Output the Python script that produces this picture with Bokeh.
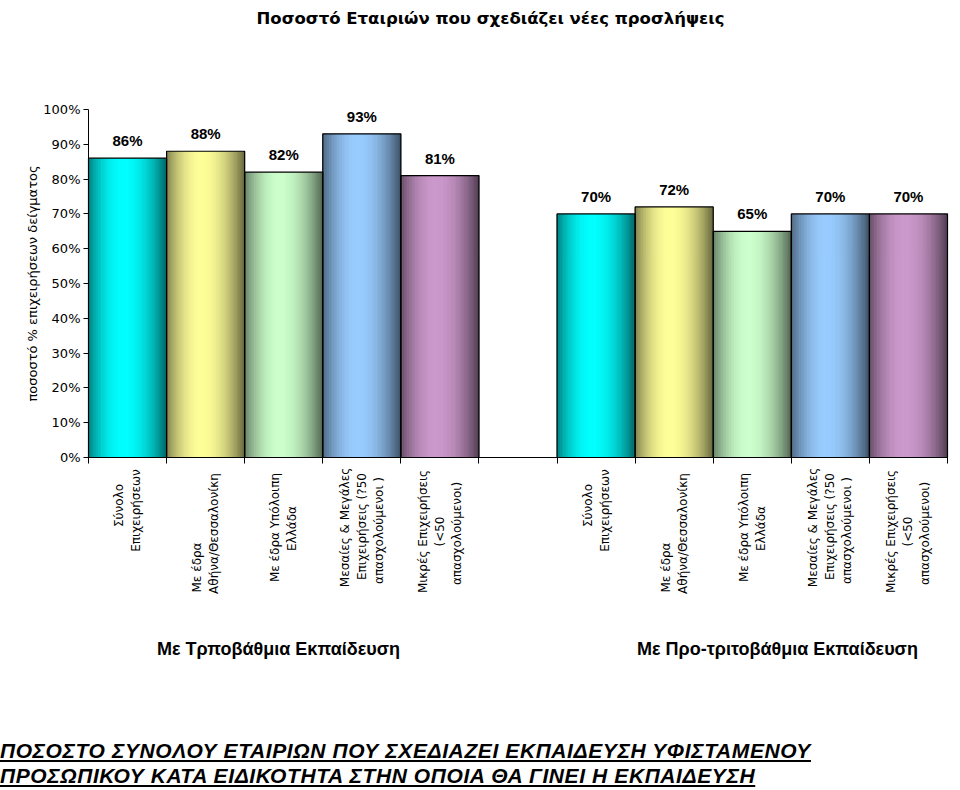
import math
from bokeh.plotting import figure
from bokeh.models import ColumnDataSource, Range1d, FixedTicker, LabelSet, Label, Div, LinearAxis
from bokeh.layouts import column
from bokeh.embed import file_html
from bokeh.resources import INLINE
from bokeh.core.properties import value

# ---------------- data ----------------
title_text = "Ποσοστό Εταιριών που σχεδιάζει νέες προσλήψεις"
y_axis_title = "ποσοστό % επιχειρήσεων δείγματος"
group_names = ["Με Τρποβάθμια Εκπαίδευση", "Με Προ-τριτοβάθμια Εκπαίδευση"]
category_lines = [
    ["Σύνολο", "Επιχειρήσεων"],
    ["Με έδρα", "Αθήνα/Θεσσαλονίκη"],
    ["Με έδρα Υπόλοιπη", "Ελλάδα"],
    ["Μεσαίες & Μεγάλες", "Επιχειρήσεις (?50", "απασχολούμενοι )"],
    ["Μικρές Επιχειρήσεις", "(<50", "απασχολούμενοι)"],
]
values_tertiary = [86, 88, 82, 93, 81]
values_pretertiary = [70, 72, 65, 70, 70]
y_ticks = [0, 10, 20, 30, 40, 50, 60, 70, 80, 90, 100]
y_tick_labels = ["0%", "10%", "20%", "30%", "40%", "50%", "60%", "70%", "80%", "90%", "100%"]
bar_colors = ["#00FFFF", "#FFFF99", "#CCFFCC", "#99CCFF", "#CC99CC"]
footer_lines = [
    "ΠΟΣΟΣΤΟ ΣΥΝΟΛΟΥ ΕΤΑΙΡΙΩΝ ΠΟΥ ΣΧΕΔΙΑΖΕΙ ΕΚΠΑΙΔΕΥΣΗ ΥΦΙΣΤΑΜΕΝΟΥ",
    "ΠΡΟΣΩΠΙΚΟΥ ΚΑΤΑ ΕΙΔΙΚΟΤΗΤΑ ΣΤΗΝ ΟΠΟΙΑ ΘΑ ΓΙΝΕΙ Η ΕΚΠΑΙΔΕΥΣΗ",
]

# ---------------- layout / style ----------------
W, H = 952, 740
AXIS_X_PX = 88         # canvas column of the value axis
RIGHT_PX = 947         # canvas column of the right end of the category axis
N_SLOTS = 11
PX_X = (RIGHT_PX - AXIS_X_PX) / N_SLOTS
Y0_PX = 457            # canvas row of the 0% line
PX_Y = 348 / 100.0     # pixels per percent
group_slot_start = [0, 6]
# vertical centre (px below the axis) of each line of each category label
line_center_px = [[48, 53], [110, 76], [70, 71], [70, 69, 73], [74, 74, 76]]
LINE_SPACING = 17
N_STRIPES = 48


def ypx(row):
    """canvas row -> data y"""
    return (Y0_PX - row) / PX_Y


def xpx(col):
    """canvas column -> data x"""
    return (col - AXIS_X_PX) / PX_X


p = figure(width=W, height=H, output_backend="svg", toolbar_location=None,
           x_range=Range1d(xpx(0), xpx(W)), y_range=Range1d(ypx(H), ypx(0)),
           x_axis_location=None, y_axis_location=None,
           min_border_left=0, min_border_right=0,
           min_border_top=0, min_border_bottom=0)
p.outline_line_color = None
p.xgrid.visible = False
p.ygrid.visible = False
p.background_fill_color = "white"
p.border_fill_color = "white"


def mix(c, f):
    r, g, b = int(c[1:3], 16), int(c[3:5], 16), int(c[5:7], 16)
    return "#%02x%02x%02x" % (int(r * f), int(g * f), int(b * f))


# gradient bars made of narrow stripes
sx, sw, stop, scol = [], [], [], []
ox, otop, lx, ly, ltxt = [], [], [], [], []
for gi, vals in enumerate([values_tertiary, values_pretertiary]):
    for ci, v in enumerate(vals):
        slot = group_slot_start[gi] + ci
        for j in range(N_STRIPES):
            t = (j + 0.5) / N_STRIPES
            peak = 0.45
            if t < peak:
                u = (peak - t) / peak
                dark = 0.5
            else:
                u = (t - peak) / (1 - peak)
                dark = 0.4
            w = 1 - u ** 2
            f = dark + (1 - dark) * w
            sx.append(slot + t)
            sw.append(1.0 / N_STRIPES * 1.4)
            stop.append(v)
            scol.append(mix(bar_colors[ci], f))
        ox.append(slot + 0.5)
        otop.append(v)
        lx.append(slot + 0.5)
        ly.append(v)
        ltxt.append(f"{v}%")

stripes = ColumnDataSource(dict(x=sx, w=sw, top=stop, color=scol))
p.vbar(x="x", width="w", top="top", bottom=0, fill_color="color", line_color=None, source=stripes)
outlines = ColumnDataSource(dict(x=ox, top=otop))
p.vbar(x="x", width=1.0, top="top", bottom=0, fill_color=None, line_color="black",
       line_width=1.2, source=outlines)

vlabels = ColumnDataSource(dict(x=lx, y=ly, text=ltxt))
p.add_layout(LabelSet(x="x", y="y", text="text", source=vlabels, y_offset=9,
                      text_align="center", text_baseline="bottom",
                      text_font=value("Liberation Sans"), text_font_style="bold",
                      text_font_size="15px", text_color="black"))

# y axis (only 0..100 drawn), placed at x = 0
yax = LinearAxis(ticker=FixedTicker(ticks=y_ticks), bounds=(0, 100), fixed_location=0)
yax.major_label_overrides = {t: s for t, s in zip(y_ticks, y_tick_labels)}
yax.minor_tick_line_color = None
yax.major_tick_in = 0
yax.major_tick_out = 5
yax.major_label_text_font = "DejaVu Sans"
yax.major_label_text_font_size = "13px"
yax.major_label_text_color = "black"
yax.major_label_standoff = 3
yax.axis_line_color = "black"
yax.major_tick_line_color = "black"
p.add_layout(yax, "left")

# x axis drawn at the 0% line
xax = LinearAxis(ticker=FixedTicker(ticks=list(range(N_SLOTS + 1))), fixed_location=0,
                 bounds=(0, N_SLOTS))
xax.major_label_overrides = {i: "" for i in range(N_SLOTS + 1)}
xax.major_label_text_font_size = "1px"
xax.minor_tick_line_color = None
xax.major_tick_in = 0
xax.major_tick_out = 6
xax.axis_line_color = "black"
xax.major_tick_line_color = "black"
p.add_layout(xax, "below")

# y axis title
p.add_layout(Label(x=xpx(32), y=50, text=y_axis_title, angle=math.pi / 2,
                   text_align="center", text_baseline="middle",
                   text_font="DejaVu Sans", text_font_size="13px", text_color="black"))

# category labels (rotated, multi-line)
cx, cy, ct = [], [], []
for gi in range(2):
    for ci, lines in enumerate(category_lines):
        slot = group_slot_start[gi] + ci
        n = len(lines)
        for li, line in enumerate(lines):
            off = (li - (n - 1) / 2) * LINE_SPACING
            cx.append(slot + 0.5 + off / PX_X)
            cy.append(-line_center_px[ci][li] / PX_Y)
            ct.append(line)
cats = ColumnDataSource(dict(x=cx, y=cy, text=ct))
p.add_layout(LabelSet(x="x", y="y", text="text", source=cats, angle=math.pi / 2,
                      text_align="center", text_baseline="middle",
                      text_font=value("DejaVu Sans"), text_font_size="12px", text_color="black"))

# group labels
group_x_cols = [278, 777]
for gname, gx in zip(group_names, group_x_cols):
    p.add_layout(Label(x=xpx(gx), y=ypx(648), text=gname,
                       text_align="center", text_baseline="middle",
                       text_font="Liberation Sans", text_font_style="bold",
                       text_font_size="18px", text_color="black"))

# chart title
p.add_layout(Label(x=xpx(490), y=ypx(18), text=title_text,
                   text_align="center", text_baseline="middle",
                   text_font="DejaVu Sans", text_font_style="bold",
                   text_font_size="16.5px", text_color="black"))

span_style = ("font-family:'Liberation Sans';font-weight:bold;font-style:italic;"
              "text-decoration:underline;font-size:21px;line-height:22px;letter-spacing:0.6px;"
              "color:black;white-space:nowrap")
footer = Div(text="<br>".join(f'<span style="{span_style}">{t}</span>' for t in footer_lines),
             width=W, height=46, styles={"margin": "0", "padding": "0", "line-height": "22px"})

layout = column(p, footer, spacing=0)
open("out.html", "w").write(file_html(layout, INLINE))
